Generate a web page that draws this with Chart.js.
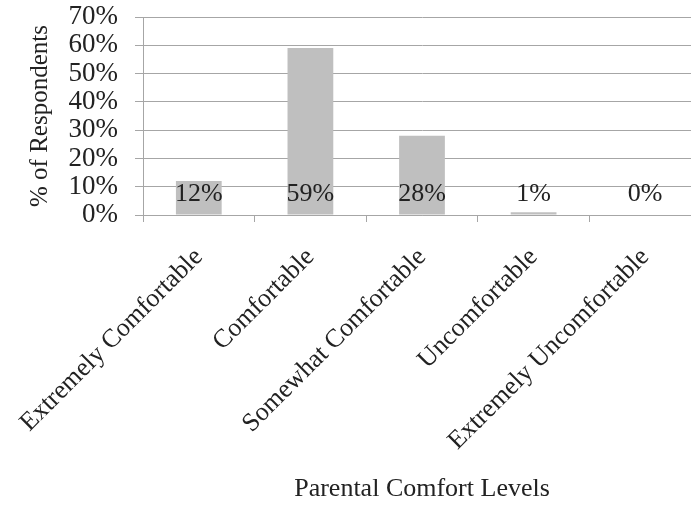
<!DOCTYPE html>
<html lang="en">
<head>
<meta charset="UTF-8">
<title>Parental Comfort Levels</title>
<style>
   html, body {
      margin: 0;
      padding: 0;
      background: #fff;
      overflow: hidden;
   }

   /* the plot runs a little past the right edge of the window */
   .box {
      width: 701px;
      height: 508px;
   }
</style>
</head>
<body>
<div class="box"><canvas id="comfortChart"></canvas></div>

<script src="https://cdn.jsdelivr.net/npm/chart.js"></script>
<script>
   // survey results
   var levels = ["Extremely Comfortable", "Comfortable", "Somewhat Comfortable", "Uncomfortable", "Extremely Uncomfortable"];
   var percents = [12, 59, 28, 1, 0];
   var yMax = 70;
   var yStep = 10;

   var serif = "'Liberation Serif', 'DejaVu Serif', serif";
   var gridColor = "#a6a6a6";
   var textColor = "#222";

   // value labels sit just above the base of each bar
   var baseLabels = {
      id: "baseLabels",
      afterDatasetsDraw: function (chart) {
         var ctx = chart.ctx;
         var meta = chart.getDatasetMeta(0);
         var y0 = chart.scales.y.getPixelForValue(0);
         ctx.save();
         ctx.font = "26px " + serif;
         ctx.fillStyle = textColor;
         ctx.textAlign = "center";
         ctx.textBaseline = "middle";
         meta.data.forEach(function (bar, i) {
            ctx.fillText(percents[i] + "%", bar.x, y0 - 21);
         });
         ctx.restore();
      }
   };

   var ctx = document.getElementById("comfortChart").getContext("2d");
   new Chart(ctx, {
      type: "bar",
      data: {
         labels: levels,
         datasets: [{
            data: percents,
            backgroundColor: "#bfbfbf",
            borderWidth: 0,
            categoryPercentage: 1,
            barPercentage: 0.41
         }]
      },
      options: {
         responsive: true,
         maintainAspectRatio: false,
         animation: false,
         layout: { padding: { top: 17, left: 0, right: 0, bottom: 0 } },
         plugins: {
            legend: { display: false },
            tooltip: { enabled: false }
         },
         scales: {
            x: {
               grid: {
                  offset: true,
                  drawOnChartArea: false,
                  drawTicks: true,
                  tickLength: 7,
                  color: gridColor
               },
               border: { color: gridColor },
               ticks: {
                  color: textColor,
                  font: { family: serif, size: 26 },
                  minRotation: 45,
                  maxRotation: 45,
                  padding: 20
               },
               title: {
                  display: true,
                  text: "Parental Comfort Levels",
                  color: textColor,
                  font: { family: serif, size: 26 },
                  padding: { top: 0, bottom: 3 }
               },
               afterFit: function (scale) {
                  scale.height = 293;
                  scale.paddingLeft = 0;
                  scale.paddingRight = 0;
               }
            },
            y: {
               min: 0,
               max: yMax,
               grid: {
                  color: gridColor,
                  tickLength: 8
               },
               border: { color: gridColor },
               ticks: {
                  stepSize: yStep,
                  autoSkip: false,
                  color: textColor,
                  font: { family: serif, size: 27 },
                  padding: 17,
                  callback: function (v) { return v + "%"; }
               },
               title: {
                  display: true,
                  text: "% of Respondents",
                  color: textColor,
                  font: { family: serif, size: 25 },
                  padding: { top: 25, bottom: 0 }
               },
               afterFit: function (scale) {
                  scale.width = 143;
                  scale.paddingTop = 0;
                  scale.paddingBottom = 0;
               }
            }
         }
      },
      plugins: [baseLabels]
   });
</script>
</body>
</html>
